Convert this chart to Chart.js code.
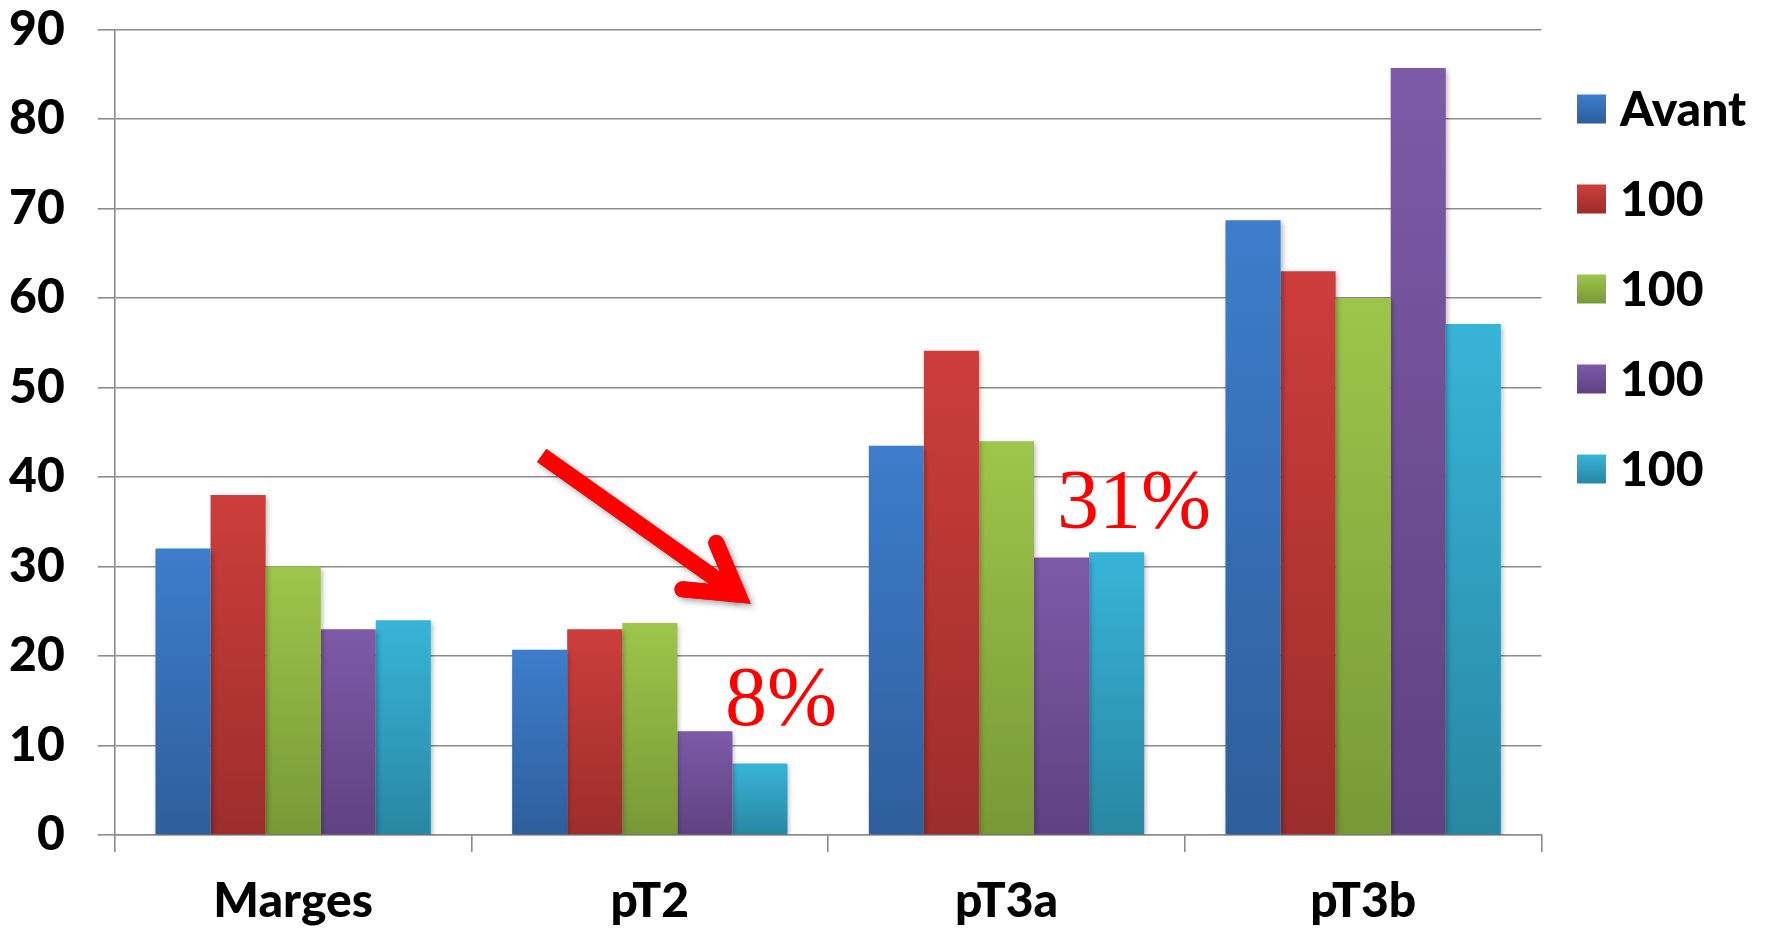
<!DOCTYPE html>
<html>
<head>
<meta charset="utf-8">
<script src="https://cdn.jsdelivr.net/npm/chart.js@4.4.1/dist/chart.umd.min.js"></script>
<style>
  html, body { margin: 0; padding: 0; background: #ffffff; }
  canvas { display: block; }
</style>
</head>
<body>
<canvas id="chart" width="1770" height="929"></canvas>
<script>
// Categories and series values
const categories = ['Marges', 'pT2', 'pT3a', 'pT3b'];
const seriesNames = ['Avant', '100', '100', '100', '100'];
const avant   = [32, 20.7, 43.5, 68.7];
const serie2  = [38, 23, 54.1, 63];
const serie3  = [30, 23.7, 44, 60];
const serie4  = [23, 11.6, 31, 85.7];
const serie5  = [24, 8, 31.6, 57.1];
const yMin = 0, yMax = 90, yStep = 10;

// Gradient colours per series: [top, bottom]
const seriesColors = [
  ['#3D7DCC', '#2E5E9B'],
  ['#CD3E3B', '#9C2D2B'],
  ['#9EC54B', '#789836'],
  ['#7D5AA8', '#5F4281'],
  ['#38B4D8', '#2887A2']
];

const GRID = '#8c8c8c';
const FONT = { family: 'Lato', weight: '900', size: 48 };

function barGradient(idx) {
  return (ctx) => {
    const chart = ctx.chart;
    const [top, bottom] = seriesColors[idx];
    if (!chart.chartArea || ctx.type !== 'data') return top;
    const ys = chart.scales.y;
    const yTop = ys.getPixelForValue(ctx.raw);
    const yBase = ys.getPixelForValue(0);
    if (!isFinite(yTop) || yTop === yBase) return top;
    const g = chart.ctx.createLinearGradient(0, yTop, 0, yBase);
    g.addColorStop(0, top);
    g.addColorStop(1, bottom);
    return g;
  };
}

const values = [avant, serie2, serie3, serie4, serie5];
const datasets = values.map((data, i) => ({
  label: seriesNames[i],
  data,
  backgroundColor: barGradient(i),
  borderWidth: 0
}));

// Soft drop shadow under the bars
const barShadow = {
  id: 'barShadow',
  beforeDatasetsDraw(chart) {
    const c = chart.ctx;
    c.save();
    c.shadowColor = 'rgba(0,0,0,0.28)';
    c.shadowBlur = 5;
    c.shadowOffsetX = 2;
    c.shadowOffsetY = 2;
  },
  afterDatasetsDraw(chart) {
    chart.ctx.restore();
  }
};

// Red arrow and percentage notes, anchored in axis units (category index, value)
const arrowShape = {
  start: [0.697, 42.4],
  tip:   [1.2477, 26.86],
  wingA: [1.1863, 32.63],
  wingB: [1.0915, 27.45]
};
const notes = [
  { text: serie5[1] + '%', at: [1.2105, 12.3] },
  { text: serie4[2] + '%', at: [2.1415, 34.3] }
];

const annotations = {
  id: 'annotations',
  afterDatasetsDraw(chart) {
    const { ctx, scales } = chart;
    const P = ([i, v]) => [scales.x.getPixelForValue(i), scales.y.getPixelForValue(v)];
    const s = P(arrowShape.start), t = P(arrowShape.tip);
    const a = P(arrowShape.wingA), b = P(arrowShape.wingB);

    const strokeArrow = () => {
      ctx.lineWidth = 16;
      ctx.lineCap = 'butt';
      ctx.beginPath();
      ctx.moveTo(s[0], s[1]);
      ctx.lineTo(t[0], t[1]);
      ctx.stroke();
      ctx.lineCap = 'round';
      ctx.lineJoin = 'miter';
      ctx.miterLimit = 10;
      ctx.beginPath();
      ctx.moveTo(a[0], a[1]);
      ctx.lineTo(t[0], t[1]);
      ctx.lineTo(b[0], b[1]);
      ctx.stroke();
    };

    ctx.save();
    ctx.strokeStyle = '#ff0000';
    ctx.shadowColor = 'rgba(0,0,0,0.35)';
    ctx.shadowBlur = 6;
    ctx.shadowOffsetX = 3;
    ctx.shadowOffsetY = 3;
    strokeArrow();
    ctx.shadowColor = 'rgba(0,0,0,0)';
    strokeArrow();
    ctx.restore();

    ctx.save();
    ctx.fillStyle = '#ff0000';
    ctx.font = '84px "Liberation Serif", "Times New Roman", serif';
    ctx.textAlign = 'left';
    ctx.textBaseline = 'alphabetic';
    notes.forEach(n => {
      const [px, py] = P(n.at);
      ctx.fillText(n.text, px, py);
    });
    ctx.restore();
  }
};

// Legend at the right, boxes with the same gradients as the bars
const sideLegend = {
  id: 'sideLegend',
  afterDraw(chart) {
    const { ctx, chartArea } = chart;
    const boxX = chartArea.right + 35.5;
    const firstTop = chartArea.top + 65;
    const box = 29, gap = 90;
    ctx.save();
    ctx.font = `${FONT.weight} ${FONT.size}px ${FONT.family}`;
    ctx.textAlign = 'left';
    ctx.textBaseline = 'alphabetic';
    chart.data.datasets.forEach((ds, i) => {
      const top = firstTop + i * gap;
      const g = ctx.createLinearGradient(0, top, 0, top + box);
      g.addColorStop(0, seriesColors[i][0]);
      g.addColorStop(1, seriesColors[i][1]);
      ctx.fillStyle = g;
      ctx.fillRect(boxX, top, box, box);
      ctx.fillStyle = '#000000';
      ctx.fillText(ds.label, boxX + box + 14, top + box / 2 + 16.8);
    });
    ctx.restore();
  }
};

new Chart(document.getElementById('chart'), {
  type: 'bar',
  data: { labels: categories, datasets },
  plugins: [barShadow, annotations, sideLegend],
  options: {
    responsive: false,
    animation: false,
    devicePixelRatio: 1,
    layout: { padding: { top: 29.5, right: 228.5, left: 0, bottom: 0 } },
    datasets: {
      bar: { categoryPercentage: 0.772, barPercentage: 1 }
    },
    plugins: {
      legend: { display: false },
      tooltip: { enabled: false }
    },
    scales: {
      x: {
        offset: true,
        grid: {
          display: true,
          offset: true,
          drawOnChartArea: false,
          drawTicks: true,
          tickLength: 17,
          color: GRID,
          lineWidth: 1.6
        },
        border: { display: true, color: GRID, width: 1.6 },
        ticks: { font: FONT, color: '#000000', padding: 21, maxRotation: 0 },
        afterFit(scale) { scale.height = 94; scale.paddingLeft = 0; scale.paddingRight = 0; }
      },
      y: {
        min: yMin,
        max: yMax,
        ticks: { stepSize: yStep, font: FONT, color: '#000000', padding: 33 },
        grid: {
          color: GRID,
          lineWidth: 1.6,
          drawTicks: true,
          tickLength: 17
        },
        border: { display: true, color: GRID, width: 1.6 },
        afterFit(scale) { scale.width = 114.8; scale.paddingTop = 0; scale.paddingBottom = 0; }
      }
    }
  }
});
</script>
</body>
</html>
